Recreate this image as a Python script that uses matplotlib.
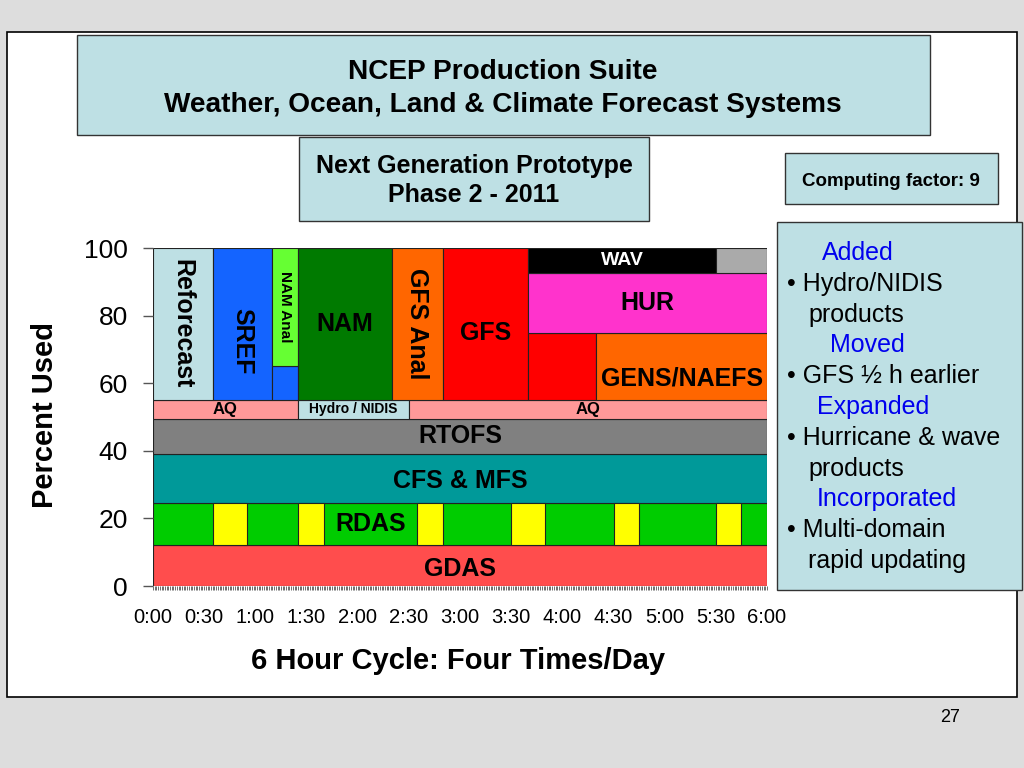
import numpy as np
import matplotlib.pyplot as plt
from matplotlib.patches import Rectangle

plt.rcParams['font.family'] = ['Liberation Sans', 'DejaVu Sans']

# Schedule blocks: start/end in minutes of the 6 h cycle, low/high in percent used
block_names = ["GDAS", "RDAS", "CFS & MFS", "RTOFS", "AQ", "Hydro / NIDIS", "AQ",
               "Reforecast", "SREF", "SREF", "NAM Anal", "NAM", "GFS Anal", "GFS",
               "GFS", "GENS/NAEFS", "HUR", "WAV", ""]
block_start = [0, 0, 0, 0, 0, 85, 150, 0, 35, 70, 70, 85, 140, 170, 220, 260, 220, 220, 330]
block_end = [360, 360, 360, 360, 85, 150, 360, 35, 70, 85, 85, 140, 170, 220, 260, 360, 360, 330, 360]
block_low = [0, 12, 24.5, 39, 49.5, 49.5, 49.5, 55, 55, 55, 65, 55, 55, 55, 55, 55, 75, 92.5, 92.5]
block_high = [12, 24.5, 39, 49.5, 55, 55, 55, 100, 100, 65, 100, 100, 100, 100, 75, 75, 92.5, 100, 100]

# RDAS yellow slots (minutes)
rdas_start = [35, 85, 155, 210, 270, 330]
rdas_end = [55, 100, 170, 230, 285, 345]

x_ticks = [0, 0.5, 1, 1.5, 2, 2.5, 3, 3.5, 4, 4.5, 5, 5.5, 6]
x_tick_labels = ["0:00", "0:30", "1:00", "1:30", "2:00", "2:30", "3:00",
                 "3:30", "4:00", "4:30", "5:00", "5:30", "6:00"]
y_ticks = [0, 20, 40, 60, 80, 100]

notes = [("Added", True), ("• Hydro/NIDIS", False), ("products", False),
         ("Moved", True), ("• GFS ½ h earlier", False), ("Expanded", True),
         ("• Hurricane & wave", False), ("products", False), ("Incorporated", True),
         ("• Multi-domain", False), ("rapid updating", False)]

# styles
colors = {"GDAS": "#FF4D4D", "RDAS": "#00CC00", "CFS & MFS": "#009999", "RTOFS": "#808080",
          "AQ": "#FF9999", "Hydro / NIDIS": "#BEE0E4", "Reforecast": "#BEE0E4",
          "SREF": "#1464FF", "NAM Anal": "#66FF33", "NAM": "#007A00", "GFS Anal": "#FF6600",
          "GFS": "#FF0000", "GENS/NAEFS": "#FF6600", "HUR": "#FF33CC", "WAV": "#000000",
          "": "#AAAAAA"}
label_size = {"AQ": 12, "Hydro / NIDIS": 10, "NAM Anal": 11, "WAV": 14}
rotated = ["Reforecast", "SREF", "NAM Anal", "GFS Anal"]
label_dy = {"SREF": -5, "GFS": -2.5, "GENS/NAEFS": -3.5, "GDAS": -1, "CFS & MFS": -0.8}
box_blue = "#BEE0E4"

fig = plt.figure(figsize=(10.24, 7.68), dpi=100)
fig.patch.set_facecolor("#DDDDDD")

# slide layer in pixel coordinates
bg = fig.add_axes([0, 0, 1, 1])
bg.set_xlim(0, 1024)
bg.set_ylim(768, 0)
bg.axis("off")
bg.add_patch(Rectangle((7, 32), 1010, 665, facecolor="white", edgecolor="black", lw=1.2))
bg.add_patch(Rectangle((77, 35), 853, 100, facecolor=box_blue, edgecolor="#333333", lw=1))
bg.add_patch(Rectangle((299, 137), 350, 84, facecolor=box_blue, edgecolor="#333333", lw=1))
bg.add_patch(Rectangle((785, 153), 213, 51, facecolor=box_blue, edgecolor="#333333", lw=1))
bg.add_patch(Rectangle((777, 222), 245, 368, facecolor=box_blue, edgecolor="#333333", lw=1))

bg.text(503, 72, "NCEP Production Suite", ha="center", va="center", fontsize=20.2, fontweight="bold")
bg.text(503, 105, "Weather, Ocean, Land & Climate Forecast Systems", ha="center", va="center",
        fontsize=20.2, fontweight="bold")
bg.text(474, 166, "Next Generation Prototype", ha="center", va="center", fontsize=18, fontweight="bold")
bg.text(474, 195, "Phase 2 - 2011", ha="center", va="center", fontsize=18, fontweight="bold")
bg.text(891, 181, "Computing factor: 9", ha="center", va="center", fontsize=13.5, fontweight="bold")

indent = {"Added": 822, "Moved": 830, "Expanded": 817, "Incorporated": 817}
for i, (txt, head) in enumerate(notes):
    if head:
        x0, col = indent[txt], "#0000EE"
    elif txt.startswith("•"):
        x0, col = 787, "black"
    else:
        x0, col = 808, "black"
    bg.text(x0, 253 + i * 30.8, txt, ha="left", va="center", fontsize=18, color=col)

bg.text(45, 415, "Percent Used", rotation=90, ha="center", va="center", fontsize=21, fontweight="bold")
bg.text(458, 661, "6 Hour Cycle: Four Times/Day", ha="center", va="center", fontsize=21,
        fontweight="bold")
bg.text(950, 718, "27", ha="center", va="center", fontsize=13)

# chart
ax = fig.add_axes([153 / 1024, 1 - 586 / 768, 614 / 1024, 338 / 768])
ax.set_zorder(2)
ax.patch.set_alpha(0)
ax.set_xlim(0, 6)
ax.set_ylim(0, 100)
for s in ax.spines.values():
    s.set_visible(False)

start_h = np.array(block_start) / 60
end_h = np.array(block_end) / 60
low = np.array(block_low)
high = np.array(block_high)
ax.bar(start_h, high - low, width=end_h - start_h, bottom=low, align="edge",
       color=[colors[n] for n in block_names], edgecolor="#222222", linewidth=0.8)

# RDAS yellow slots on top of the green band
ys = np.array(rdas_start) / 60
ye = np.array(rdas_end) / 60
ax.bar(ys, block_high[1] - block_low[1], width=ye - ys, bottom=block_low[1], align="edge",
       color="#FFFF00", edgecolor="#222222", linewidth=0.8)

drawn = set()
for n, s, e, lo, hi in zip(block_names, start_h, end_h, low, high):
    if n == "" or (n in ("SREF", "GFS") and n in drawn):
        continue
    drawn.add(n)
    xc, yc = (s + e) / 2, (lo + hi) / 2 + label_dy.get(n, 0)
    if n == "RDAS":
        xc = (ye[1] + ys[2]) / 2
    ax.text(xc, yc, n, ha="center", va="center", fontweight="bold",
            fontsize=label_size.get(n, 18), rotation=-90 if n in rotated else 0,
            color="white" if n == "WAV" else "black")

ax.set_xticks(x_ticks)
ax.set_xticklabels(x_tick_labels, fontsize=14.5)
ax.set_xticks(np.arange(0, 6.001, 1 / 60), minor=True)
ax.tick_params(axis="x", which="both", direction="out", length=3, width=0.6,
               color="#555555", pad=13)
ax.set_yticks(y_ticks)
ax.set_yticklabels([str(v) for v in y_ticks], fontsize=19)
ax.tick_params(axis="y", length=7, width=1, color="#555555", pad=11)

fig.savefig("out.png", dpi=100)
